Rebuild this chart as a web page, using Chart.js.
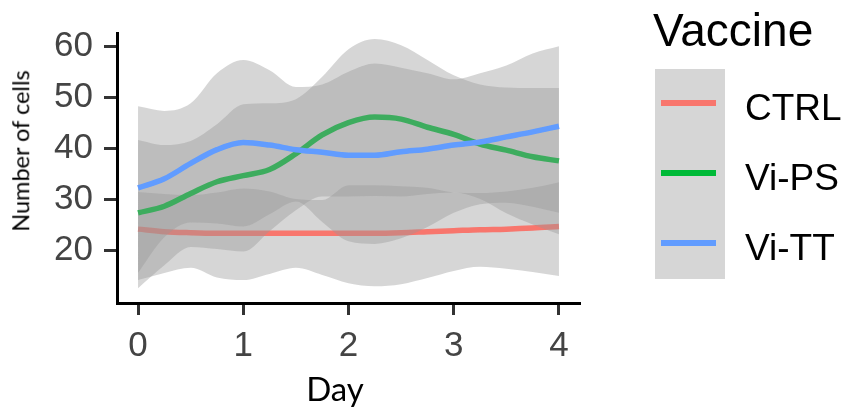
<!DOCTYPE html>
<html>
<head>
<meta charset="utf-8">
<script src="https://cdn.jsdelivr.net/npm/chart.js@4.4.1/dist/chart.umd.min.js"></script>
<style>
  html, body { margin: 0; padding: 0; background: #fff; }
  #wrap { position: relative; width: 846px; height: 411px; overflow: hidden; }
  #wrap canvas { position: absolute; left: 0; top: 0; }
  .txt { position: absolute; white-space: nowrap; line-height: 1; }
  .lab { font-family: 'Liberation Sans', Arial, sans-serif; color: #000; }
  .ttl { font-family: Lato, 'Noto Sans', sans-serif; color: #000; }
  #legBox { position: absolute; left: 655px; top: 69px; width: 70px; height: 210px; background: #d6d6d6; }
  .key { position: absolute; left: 6px; width: 55px; height: 6px; }
</style>
</head>
<body>
<div id="wrap">
  <canvas id="smoothChart" width="846" height="411"></canvas>
  <div class="txt ttl" id="yTitle" style="font-size:23.5px;left:21px;top:151px;transform:translate(-50%,-50%) rotate(-90deg);">Number of cells</div>
  <div class="txt ttl" id="xTitle" style="font-size:33px;left:335px;top:372px;transform:translateX(-50%);">Day</div>
  <div class="txt lab" id="legTitle" style="font-size:46px;left:653px;top:7px;">Vaccine</div>
  <div id="legBox"></div>
</div>
<script>
// ── Data ──────────────────────────────────────────────────────────────────
const days     = [0, 0.25, 0.5, 0.75, 1, 1.25, 1.5, 1.75, 2, 2.25, 2.5, 2.75, 3, 3.25, 3.5, 3.75, 4];
const dayTicks = [0, 1, 2, 3, 4];
const yTicks   = [20, 30, 40, 50, 60];

const groups  = ['CTRL', 'Vi-PS', 'Vi-TT'];
const colours = ['#F8766D', '#00BA38', '#619CFF'];

// fitted lines
const ctrlFit = [24.1, 23.6, 23.4, 23.3, 23.3, 23.3, 23.3, 23.3, 23.3, 23.3, 23.4, 23.6, 23.8, 24.0, 24.1, 24.3, 24.6];
const psFit   = [27.3, 28.6, 31.1, 33.4, 34.6, 35.8, 38.9, 42.6, 45.0, 46.1, 45.7, 44.1, 42.7, 40.8, 39.6, 38.3, 37.5];
const ttFit   = [32.2, 34.0, 37.0, 39.7, 41.1, 40.6, 39.7, 39.2, 38.6, 38.6, 39.3, 39.8, 40.6, 41.2, 42.2, 43.2, 44.3];

// confidence ribbons
const ctrlLow  = [14.1, 15.5, 16.5, 14.6, 14.1, 15.3, 16.5, 15.1, 13.5, 12.9, 13.3, 14.5, 15.9, 16.7, 16.3, 15.7, 14.9];
const ctrlHigh = [31.4, 31.0, 30.8, 31.3, 32.1, 31.5, 30.0, 29.8, 32.7, 32.7, 32.5, 32.2, 31.3, 31.2, 31.5, 32.2, 33.3];
const psLow    = [12.5, 17.0, 20.6, 20.2, 19.7, 23.7, 27.8, 30.5, 30.5, 30.6, 30.5, 31.0, 31.3, 30.0, 27.2, 25.0, 23.1];
const psHigh   = [41.6, 40.6, 41.4, 44.7, 48.6, 48.8, 49.6, 54.0, 59.4, 61.4, 60.2, 57.3, 54.3, 52.5, 51.9, 51.8, 51.8];
const ttLow    = [15.5, 22.5, 25.4, 25.2, 24.6, 27.0, 29.5, 25.5, 21.7, 21.2, 22.3, 24.5, 27.3, 29.0, 29.3, 28.5, 27.3];
const ttHigh   = [48.2, 47.3, 48.8, 54.7, 57.3, 55.3, 52.0, 52.5, 55.0, 56.6, 55.8, 54.7, 53.5, 54.7, 56.2, 58.6, 60.0];

const fits  = [ctrlFit, psFit, ttFit];
const lows  = [ctrlLow, psLow, ttLow];
const highs = [ctrlHigh, psHigh, ttHigh];

// ── Helpers ───────────────────────────────────────────────────────────────
const pts = arr => days.map((d, i) => ({ x: d, y: arr[i] }));
const RIBBON = 'rgba(153,153,153,0.4)';

// each group: lower edge, upper edge (filled down to lower), fitted line
// later groups are drawn on top (lower `order` = drawn later)
const datasets = [];
groups.forEach((g, k) => {
    const base = datasets.length;
    const ord  = 10 - k * 3;
    datasets.push({ label: g + ' low', data: pts(lows[k]), borderWidth: 0, pointRadius: 0,
                    fill: false, cubicInterpolationMode: 'monotone', order: ord });
    datasets.push({ label: g + ' high', data: pts(highs[k]), borderWidth: 0, pointRadius: 0,
                    backgroundColor: RIBBON, fill: base, cubicInterpolationMode: 'monotone', order: ord });
    datasets.push({ label: g, data: pts(fits[k]), borderColor: colours[k], borderWidth: 5.5,
                    pointRadius: 0, fill: false, cubicInterpolationMode: 'monotone', order: ord - 1 });
});

// ── Chart ─────────────────────────────────────────────────────────────────
const tickFont = { family: "'Liberation Sans', Arial, sans-serif", size: 35 };

new Chart(document.getElementById('smoothChart').getContext('2d'), {
    type: 'line',
    data: { datasets },
    options: {
        responsive: false,
        animation: false,
        events: [],
        layout: { padding: { left: 0, top: 33, right: 266, bottom: 0 } },
        plugins: { legend: { display: false }, tooltip: { enabled: false } },
        scales: {
            x: {
                type: 'linear', min: -0.2, max: 4.2,
                afterFit: s => { s.height = 108; },
                afterBuildTicks: s => { s.ticks = dayTicks.map(v => ({ value: v })); },
                grid: { drawOnChartArea: false, drawTicks: true, tickLength: 12, tickWidth: 3, tickColor: '#333333' },
                border: { display: true, color: '#000000', width: 3 },
                ticks: { font: tickFont, color: '#444444', padding: 10, maxRotation: 0, autoSkip: false }
            },
            y: {
                type: 'linear', min: 9.6, max: 62.6,
                afterFit: s => { s.width = 117; },
                afterBuildTicks: s => { s.ticks = yTicks.map(v => ({ value: v })); },
                grid: { drawOnChartArea: false, drawTicks: true, tickLength: 13, tickWidth: 3, tickColor: '#333333' },
                border: { display: true, color: '#000000', width: 3 },
                ticks: { font: tickFont, color: '#444444', padding: 11 }
            }
        }
    }
});

// ── Legend ────────────────────────────────────────────────────────────────
const legBox = document.getElementById('legBox');
const wrap   = document.getElementById('wrap');
groups.forEach((g, k) => {
    const key = document.createElement('div');
    key.className = 'key';
    key.style.top = (31 + k * 70) + 'px';
    key.style.background = colours[k];
    legBox.appendChild(key);

    const lab = document.createElement('div');
    lab.className = 'txt lab';
    lab.style.fontSize = '37px';
    lab.style.left = '745px';
    lab.style.top = (89 + k * 70) + 'px';
    lab.textContent = g;
    wrap.appendChild(lab);
});
</script>
</body>
</html>
